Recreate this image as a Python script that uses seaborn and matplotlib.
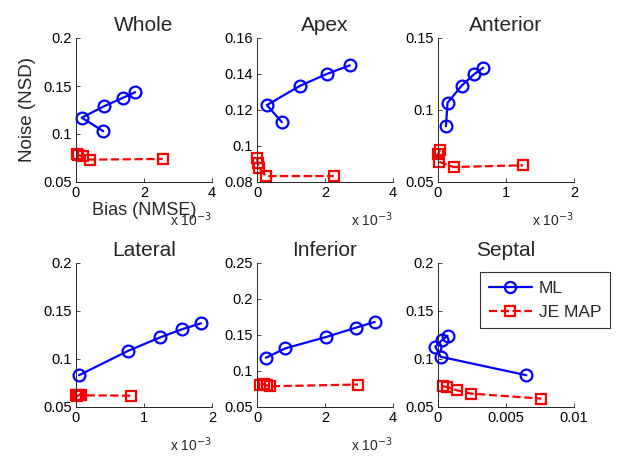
import matplotlib
matplotlib.use("Agg")
import matplotlib.pyplot as plt
import seaborn as sns
import pandas as pd
from matplotlib.lines import Line2D

sns.set_style("ticks")
plt.rcParams['font.family'] = ['Liberation Sans', 'DejaVu Sans']
plt.rcParams['xtick.direction'] = 'in'
plt.rcParams['ytick.direction'] = 'in'

regions = ["Whole", "Apex", "Anterior", "Lateral", "Inferior", "Septal"]

# Bias (NMSE) in units of 1e-3 (Septal in raw units), Noise (NSD)
ml_bias = {
    "Whole":    [0.80, 0.17, 0.83, 1.37, 1.74],
    "Apex":     [0.73, 0.29, 1.25, 2.05, 2.73],
    "Anterior": [0.117, 0.14, 0.35, 0.53, 0.665],
    "Lateral":  [0.044, 0.77, 1.24, 1.56, 1.84],
    "Inferior": [0.26, 0.83, 2.03, 2.90, 3.46],
    "Septal":   [0.0065, 0.0002, -0.0002, 0.0003, 0.0007],
}
ml_noise = {
    "Whole":    [0.103, 0.117, 0.129, 0.1375, 0.1435],
    "Apex":     [0.1133, 0.1227, 0.1333, 0.140, 0.1448],
    "Anterior": [0.0887, 0.105, 0.117, 0.1248, 0.1294],
    "Lateral":  [0.0831, 0.1086, 0.1226, 0.131, 0.1372],
    "Inferior": [0.1184, 0.1314, 0.1472, 0.160, 0.1681],
    "Septal":   [0.0831, 0.1023, 0.1128, 0.1198, 0.1243],
}
je_bias = {
    "Whole":    [0.02, 0.07, 0.20, 0.40, 2.55],
    "Apex":     [0.0, 0.02, 0.05, 0.26, 2.26],
    "Anterior": [0.03, 0.0, 0.02, 0.23, 1.25],
    "Lateral":  [0.0, 0.02, 0.05, 0.08, 0.81],
    "Inferior": [0.10, 0.20, 0.29, 0.39, 2.97],
    "Septal":   [0.00036, 0.00065, 0.0014, 0.0024, 0.0076],
}
je_noise = {
    "Whole":    [0.0788, 0.0780, 0.0767, 0.0733, 0.0740],
    "Apex":     [0.0935, 0.0905, 0.0880, 0.0833, 0.0833],
    "Anterior": [0.0720, 0.0692, 0.0639, 0.0604, 0.0616],
    "Lateral":  [0.0622, 0.0612, 0.0630, 0.0622, 0.0618],
    "Inferior": [0.0812, 0.0816, 0.0800, 0.0788, 0.0812],
    "Septal":   [0.0716, 0.0709, 0.0674, 0.0640, 0.0587],
}

xlims = {"Whole": (0, 4), "Apex": (0, 4), "Anterior": (0, 2),
         "Lateral": (0, 2), "Inferior": (0, 4), "Septal": (0, 0.01)}
xticks = {"Whole": [0, 2, 4], "Apex": [0, 2, 4], "Anterior": [0, 1, 2],
          "Lateral": [0, 1, 2], "Inferior": [0, 2, 4], "Septal": [0, 0.005, 0.01]}
xticklabels = {"Whole": ["0", "2", "4"], "Apex": ["0", "2", "4"],
               "Anterior": ["0", "1", "2"], "Lateral": ["0", "1", "2"],
               "Inferior": ["0", "2", "4"], "Septal": ["0", "0.005", "0.01"]}
ylims = {"Whole": (0.05, 0.2), "Apex": (0.08, 0.16), "Anterior": (0.05, 0.15),
         "Lateral": (0.05, 0.2), "Inferior": (0.05, 0.25), "Septal": (0.05, 0.2)}
yticks = {"Whole": [0.05, 0.1, 0.15, 0.2], "Apex": [0.08, 0.1, 0.12, 0.14, 0.16],
          "Anterior": [0.05, 0.1, 0.15], "Lateral": [0.05, 0.1, 0.15, 0.2],
          "Inferior": [0.05, 0.1, 0.15, 0.2, 0.25], "Septal": [0.05, 0.1, 0.15, 0.2]}
yticklabels = {"Whole": ["0.05", "0.1", "0.15", "0.2"],
               "Apex": ["0.08", "0.1", "0.12", "0.14", "0.16"],
               "Anterior": ["0.05", "0.1", "0.15"],
               "Lateral": ["0.05", "0.1", "0.15", "0.2"],
               "Inferior": ["0.05", "0.1", "0.15", "0.2", "0.25"],
               "Septal": ["0.05", "0.1", "0.15", "0.2"]}
has_exp = {"Whole": True, "Apex": True, "Anterior": True,
           "Lateral": True, "Inferior": True, "Septal": False}

W, H = 620, 458
fig = plt.figure(figsize=(W / 100, H / 100), dpi=100)
col_left = [76, 257, 438]
row_top = [38, 263]
aw, ah = 136, 144

axes = {}
for i, r in enumerate(regions):
    row, col = divmod(i, 3)
    left = col_left[col] / W
    bottom = 1 - (row_top[row] + ah) / H
    ax = fig.add_axes([left, bottom, aw / W, ah / H])
    axes[r] = ax

    dml = pd.DataFrame({"bias": ml_bias[r], "noise": ml_noise[r]})
    dje = pd.DataFrame({"bias": je_bias[r], "noise": je_noise[r]})
    sns.lineplot(data=dml, x="bias", y="noise", sort=False, estimator=None, ax=ax,
                 color="#0000ff", linewidth=1.6, marker="o", markersize=8.5,
                 markerfacecolor="none", markeredgecolor="#0000ff",
                 markeredgewidth=1.6, clip_on=False, label="ML", legend=False)
    sns.lineplot(data=dje, x="bias", y="noise", sort=False, estimator=None, ax=ax,
                 color="#ff0000", linewidth=1.6, linestyle="--", marker="s",
                 markersize=7.5, markerfacecolor="none", markeredgecolor="#ff0000",
                 markeredgewidth=1.6, clip_on=False, label="JE MAP", legend=False)

    ax.set_xlim(*xlims[r])
    ax.set_ylim(*ylims[r])
    ax.set_xticks(xticks[r])
    ax.set_xticklabels(xticklabels[r])
    ax.set_yticks(yticks[r])
    ax.set_yticklabels(yticklabels[r])
    ax.tick_params(labelsize=10.5, length=3, width=0.6, colors="#262626",
                   labelcolor="black", pad=3)
    for s in ["top", "right"]:
        ax.spines[s].set_visible(False)
    for s in ["left", "bottom"]:
        ax.spines[s].set_linewidth(0.7)
        ax.spines[s].set_color("#262626")
    ax.set_title(r, fontsize=15, pad=5)
    ax.set_xlabel("")
    ax.set_ylabel("")
    if has_exp[r]:
        ax.text(1.0, -0.265, r"x 10$^{-3}$", transform=ax.transAxes,
                ha="right", va="center", fontsize=10)

axes["Whole"].set_xlabel("Bias (NMSE)", fontsize=13, labelpad=1)
axes["Whole"].set_ylabel("Noise (NSD)", fontsize=13.5, labelpad=5)

handles = [
    Line2D([], [], color="#0000ff", lw=1.6, marker="o", markersize=8,
           markerfacecolor="none", markeredgewidth=1.6),
    Line2D([], [], color="#ff0000", lw=1.6, ls="--", marker="s", markersize=7,
           markerfacecolor="none", markeredgewidth=1.6),
]
leg = fig.legend(handles, ["ML", "JE MAP"], loc="upper left",
                 bbox_to_anchor=(480 / W, 1 - 272 / H), borderaxespad=0,
                 fontsize=12.5, frameon=True, fancybox=False, edgecolor="black",
                 handlelength=2.5, borderpad=0.5, labelspacing=0.5,
                 handletextpad=0.4)
leg.get_frame().set_linewidth(0.8)

fig.savefig("out.png", dpi=100, facecolor="white")
